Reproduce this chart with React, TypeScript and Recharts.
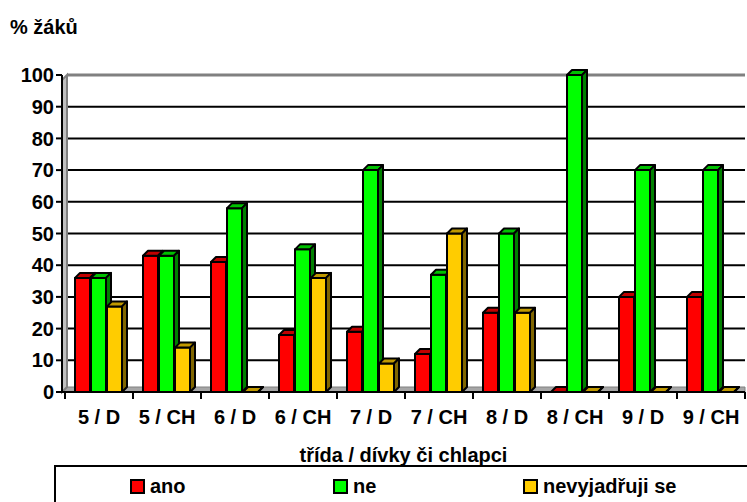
import React from 'react';
import { BarChart, Bar, XAxis, YAxis, CartesianGrid } from 'recharts';

const categories = ['5 / D', '5 / CH', '6 / D', '6 / CH', '7 / D', '7 / CH', '8 / D', '8 / CH', '9 / D', '9 / CH'];
const ano = [36, 43, 41, 18, 19, 12, 25, 0, 30, 30];
const ne = [36, 43, 58, 45, 70, 37, 50, 100, 70, 70];
const nevyjadruji = [27, 14, 0, 36, 9, 50, 25, 0, 0, 0];
const yTicks = [0, 10, 20, 30, 40, 50, 60, 70, 80, 90, 100];

const seriesNames = ['ano', 'ne', 'nevyjadřuji se'];
const seriesKeys = ['ano', 'ne', 'nev'];
const seriesColors = ['#FF0000', '#00FF00', '#FFCC00'];
const sideColors: Record<string, string> = { '#FF0000': '#800000', '#00FF00': '#008000', '#FFCC00': '#806600' };
const topColors: Record<string, string> = { '#FF0000': '#C00000', '#00FF00': '#00C000', '#FFCC00': '#C09900' };

const data = categories.map((c, i) => ({ cat: c, ano: ano[i], ne: ne[i], nev: nevyjadruji[i] }));

const FONT = '"Liberation Sans", Arial, sans-serif';
const D = 5;

const Bar3D = (props: any) => {
  const { x, y, width, height, fill } = props;
  if (x == null || y == null) return null;
  const w = width - 1;
  const h = Math.max(0, height || 0);
  const side = sideColors[fill] || '#333';
  const top = topColors[fill] || fill;
  return (
    <g stroke="#000" strokeWidth={2} strokeLinejoin="round">
      {h > 0 && <rect x={x} y={y} width={w} height={h} fill={fill} />}
      <polygon points={`${x},${y} ${x + D},${y - D} ${x + w + D},${y - D} ${x + w},${y}`} fill={top} />
      <polygon points={`${x + w},${y} ${x + w + D},${y - D} ${x + w + D},${y + h - D} ${x + w},${y + h}`} fill={side} />
    </g>
  );
};

const GridLine = (props: any) => {
  const { x1, x2, y1, index } = props;
  const gy = props.y;
  const gh = props.height;
  const isTop = Math.abs(y1 - gy) < 1;
  const isBottom = Math.abs(y1 - (gy + gh)) < 1;
  return (
    <g key={`gl-${index}`}>
      {isBottom ? (
        <polygon points={`${x1},${y1} ${x1 + D},${y1 - D} ${x2},${y1 - D} ${x2},${y1}`} fill="#A6A6A6" stroke="#808080" strokeWidth={1} />
      ) : (
        <line x1={x1 + D} x2={x2} y1={y1} y2={y1} stroke={isTop ? '#808080' : '#000'} strokeWidth={isTop ? 3 : 2} />
      )}
      {isTop && (
        <polygon
          points={`${x1},${gy + D} ${x1 + D},${gy} ${x1 + D},${gy + gh - D} ${x1},${gy + gh}`}
          fill="#C0C0C0"
          stroke="#808080"
          strokeWidth={2}
        />
      )}
    </g>
  );
};

const XTick = (props: any) => {
  const { x, y, payload, index, visibleTicksCount } = props;
  const half = payload && payload.offset ? payload.offset : 34;
  const left = x - half;
  const right = x + half;
  return (
    <g>
      <line x1={left} x2={left} y1={y} y2={y + 7} stroke="#000" strokeWidth={2} />
      {index === visibleTicksCount - 1 && <line x1={right} x2={right} y1={y} y2={y + 7} stroke="#000" strokeWidth={2} />}
      <text x={x} y={y + 32} textAnchor="middle" fontFamily={FONT} fontWeight="bold" fontSize={20} fill="#000">
        {payload.value}
      </text>
    </g>
  );
};

const XTitle = (props: any) => {
  const vb = props.viewBox || {};
  const cx = vb.x + vb.width / 2;
  return (
    <text x={cx} y={vb.y + 70} textAnchor="middle" fontFamily={FONT} fontWeight="bold" fontSize={20} fill="#000">
      třída / dívky či chlapci
    </text>
  );
};

const YTitle = () => (
  <text x={10} y={34} textAnchor="start" fontFamily={FONT} fontWeight="bold" fontSize={20} fill="#000">
    % žáků
  </text>
);

const legendLefts = [74, 277, 467];

export default function App() {
  return (
    <div style={{ position: 'absolute', left: 0, top: 0, width: 747, height: 502, background: '#fff', overflow: 'hidden' }}>
      <BarChart
        width={747}
        height={502}
        data={data}
        margin={{ top: 75, right: 2, bottom: 0, left: 0 }}
        barCategoryGap={10}
        barGap={0}
      >
        <CartesianGrid vertical={false} horizontal={GridLine as any} />
        <XAxis
          dataKey="cat"
          interval={0}
          height={110}
          padding={{ left: 3, right: 0 }}
          tickLine={false}
          tickSize={0}
          tickMargin={0}
          axisLine={{ stroke: '#000', strokeWidth: 2 }}
          tick={XTick}
          label={<XTitle />}
        />
        <YAxis
          domain={[0, 100]}
          ticks={yTicks}
          interval={0}
          width={62}
          tickSize={6}
          tickMargin={2}
          tickLine={{ stroke: '#000', strokeWidth: 2 }}
          axisLine={{ stroke: '#000', strokeWidth: 2 }}
          tick={{ fontFamily: FONT, fontWeight: 'bold', fontSize: 20, fill: '#000' }}
          label={<YTitle />}
        />
        {seriesKeys.map((k, i) => (
          <Bar key={k} dataKey={k} name={seriesNames[i]} fill={seriesColors[i]} shape={Bar3D} isAnimationActive={false} />
        ))}
      </BarChart>
      <div
        style={{
          position: 'absolute',
          left: 54,
          top: 465,
          width: 720,
          height: 60,
          border: '2px solid #000',
          background: '#fff',
          boxSizing: 'border-box',
        }}
      >
        {seriesNames.map((n, i) => (
          <div
            key={n}
            style={{
              position: 'absolute',
              left: legendLefts[i],
              top: 8,
              display: 'flex',
              alignItems: 'center',
              fontFamily: FONT,
              fontWeight: 'bold',
              fontSize: 20,
              lineHeight: '22px',
              color: '#000',
              whiteSpace: 'nowrap',
            }}
          >
            <span
              style={{
                display: 'inline-block',
                width: 11,
                height: 11,
                border: '2px solid #000',
                background: seriesColors[i],
                marginRight: 5,
              }}
            />
            {n}
          </div>
        ))}
      </div>
    </div>
  );
}
